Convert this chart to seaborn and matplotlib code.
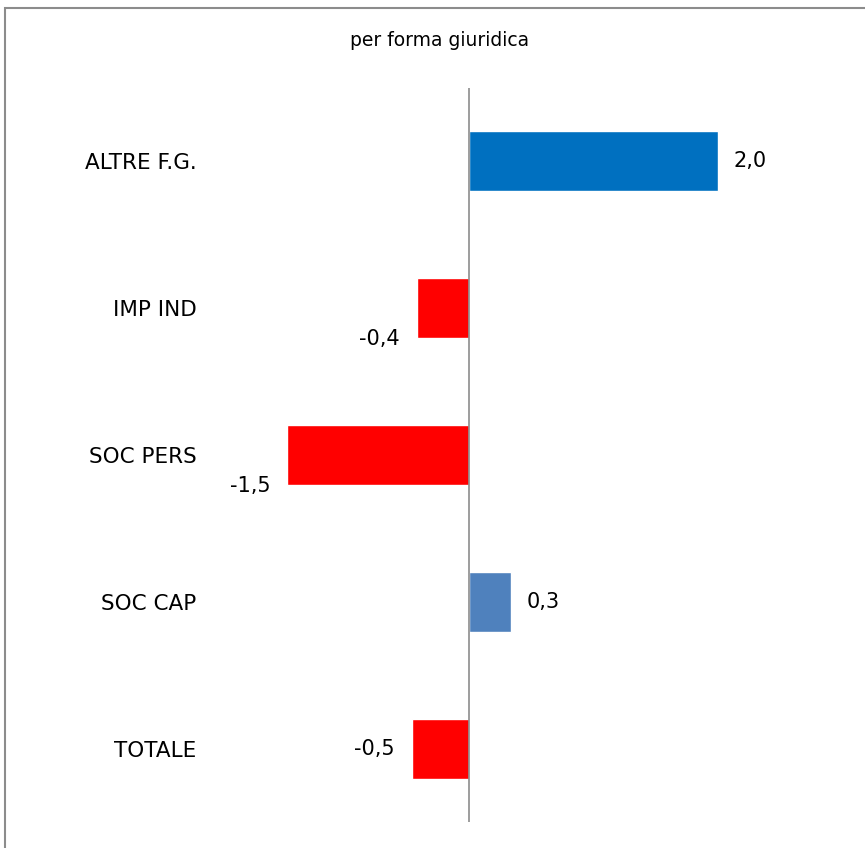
import pandas as pd
import seaborn as sns
import matplotlib.pyplot as plt
from matplotlib.patches import Rectangle

# data
categories = ['ALTRE F.G.', 'IMP IND', 'SOC PERS', 'SOC CAP', 'TOTALE']
values = [2.0, -0.42, -1.46, 0.34, -0.46]
bar_colors = ['#0070C0', '#FF0000', '#FF0000', '#4F81BD', '#FF0000']
title = 'per forma giuridica'

df = pd.DataFrame({'cat': categories, 'val': values})

sns.set_style('white')
plt.rcParams['font.family'] = ['DejaVu Sans']

fig = plt.figure(figsize=(8.65, 8.48), dpi=100)
ax = fig.add_axes([205 / 865, 1 - 822 / 848, 655 / 865, 734 / 848])

sns.barplot(data=df, x='val', y='cat', hue='cat', palette=bar_colors,
            legend=False, orient='h', width=0.41, saturation=1, ax=ax)

ax.set_xlim(-(469 - 205) / 124.5, (860 - 469) / 124.5)
ax.set_ylim(4.5, -0.5)
ax.axvline(0, color='#8c8c8c', lw=1.2)
for s in ax.spines.values():
    s.set_visible(False)
ax.set_xticks([])
ax.set_xlabel('')
ax.set_ylabel('')
ax.tick_params(axis='y', length=0, pad=6, labelsize=15.5, labelcolor='black')

# value labels, comma as decimal separator
# negative ones sometimes sit at the bar bottom, like in the original
y_shift = [0, 0.21, 0.21, 0, 0]
for i, v in enumerate(values):
    txt = f'{v:.1f}'.replace('.', ',')
    if v >= 0:
        ax.annotate(txt, (v, i), xytext=(11, 0), textcoords='offset points',
                    ha='left', va='center', fontsize=15, color='black')
    else:
        ax.annotate(txt, (v, i + y_shift[i]), xytext=(-12, 0), textcoords='offset points',
                    ha='right', va='center', fontsize=15, color='black')

fig.text(440 / 865, 1 - 40 / 848, title, ha='center', va='center', fontsize=13.5,
         color='black')

# chart frame
fig.patches.append(Rectangle((5 / 865, -0.05), 1.1, 1 - 8 / 848 + 0.05,
                             transform=fig.transFigure, fill=False,
                             edgecolor='#8c8c8c', lw=1.5))

fig.savefig('out.png', dpi=100)
